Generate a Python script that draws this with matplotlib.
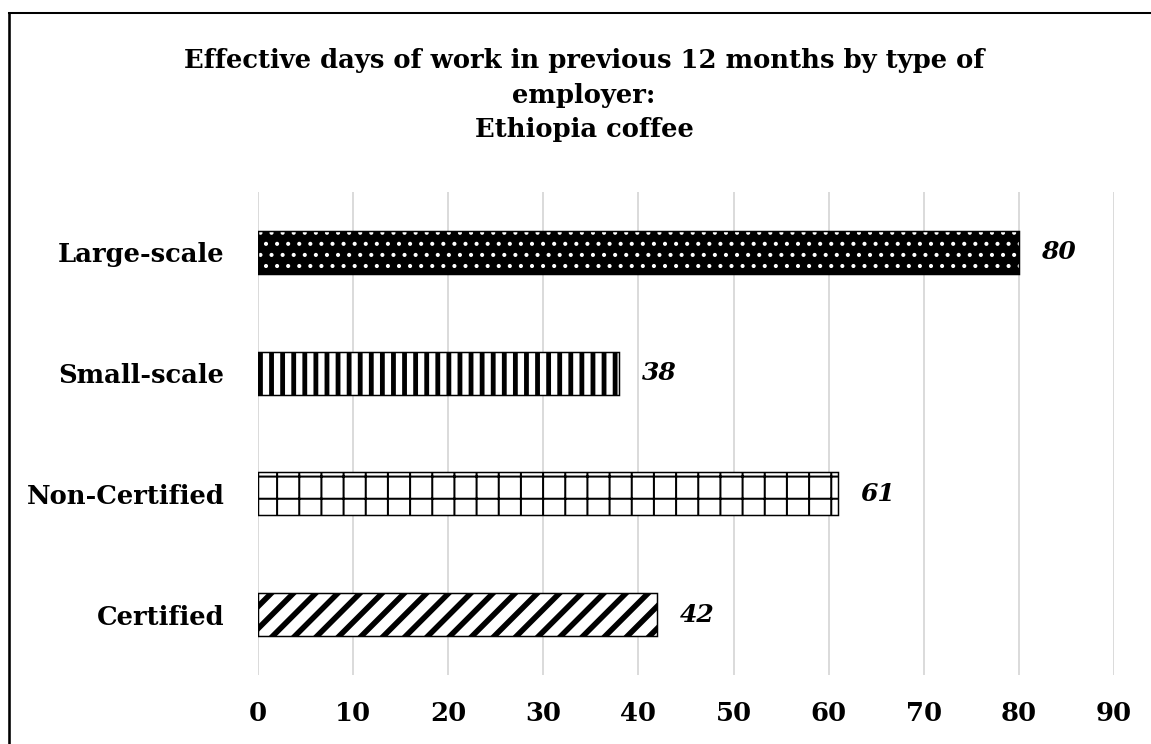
import matplotlib
matplotlib.use("Agg")
import matplotlib.pyplot as plt
from matplotlib.lines import Line2D

# data
categories = ["Certified", "Non-Certified", "Small-scale", "Large-scale"]
days = [42, 61, 38, 80]
x_ticks = [0, 10, 20, 30, 40, 50, 60, 70, 80, 90]
title = "Effective days of work in previous 12 months by type of\nemployer:\nEthiopia coffee"

# pattern per bar: (face, hatch colour, hatch, hatch linewidth)
styles = [
    ("white", "black", "//", 3.0),
    ("white", "black", "+", 1.1),
    ("white", "black", "||", 2.6),
    ("black", "white", "..", 1.0),
]

DPI = 133.333
plt.rcParams["font.family"] = ["DejaVu Serif"]
plt.rcParams["font.weight"] = "bold"

fig = plt.figure(figsize=(1151 / DPI, 744 / DPI), dpi=DPI)
ax = fig.add_axes([258 / 1151, 1 - 675 / 744, 856 / 1151, (675 - 192) / 744])

for i, (cat, val) in enumerate(zip(categories, days)):
    face, hcol, hatch, hlw = styles[i]
    plt.rcParams["hatch.linewidth"] = hlw
    bars = ax.barh(i, val, height=0.355, color=face, edgecolor=hcol, hatch=hatch,
                   linewidth=0, zorder=2)
    for b in bars:
        if hasattr(b, "set_hatch_linewidth"):
            b.set_hatch_linewidth(hlw)
    # outline on top
    ax.barh(i, val, height=0.355, fill=False, edgecolor="black", linewidth=0.8, zorder=3)
    ax.annotate(str(val), xy=(val, i), xytext=(12, 0), textcoords="offset points",
                va="center", ha="left", fontsize=13.5, fontstyle="italic",
                fontweight="bold")

ax.set_xlim(0, 90)
ax.set_ylim(-0.5, 3.5)
ax.set_xticks(x_ticks)
ax.set_xticklabels([str(t) for t in x_ticks], fontsize=14, fontweight="bold")
ax.set_yticks(range(len(categories)))
ax.set_yticklabels(categories, fontsize=14, fontweight="bold")
ax.tick_params(axis="both", length=0)
ax.tick_params(axis="y", pad=18)
ax.tick_params(axis="x", pad=14)
ax.grid(axis="x", color="#d9d9d9", linewidth=1.0, zorder=0)
ax.set_axisbelow(True)
for s in ax.spines.values():
    s.set_visible(False)

fig.text(584 / 1151, 1 - 48 / 744, title, ha="center", va="top", fontsize=14,
         fontweight="bold", linespacing=1.48)

# frame lines of the chart area (top and left only visible)
fig.add_artist(Line2D([9 / 1151, 1], [1 - 13 / 744, 1 - 13 / 744], color="black",
                      linewidth=1.1, transform=fig.transFigure))
fig.add_artist(Line2D([9 / 1151, 9 / 1151], [0, 1 - 13 / 744], color="black",
                      linewidth=1.4, transform=fig.transFigure))

fig.savefig("out.png", dpi=DPI)
